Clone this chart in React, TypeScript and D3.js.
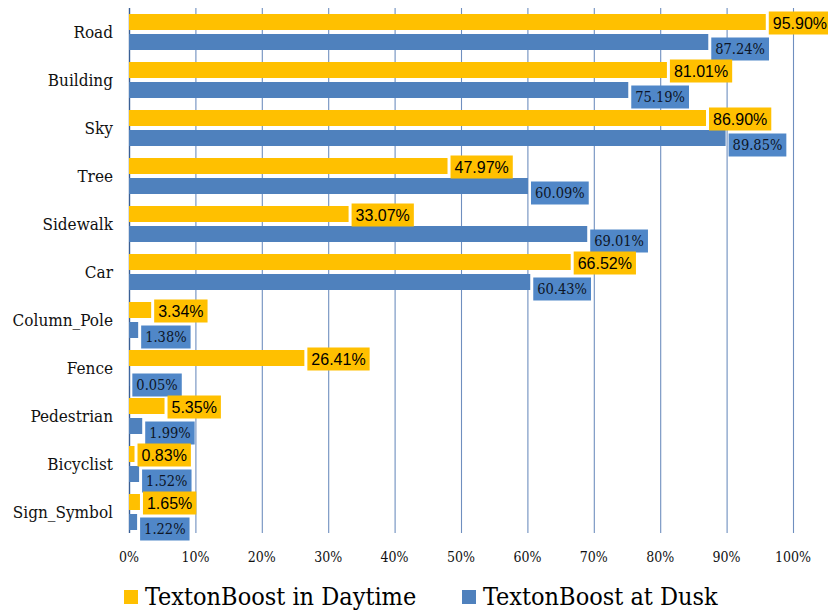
import React from 'react'
import * as d3 from "d3";

const categories = ["Road", "Building", "Sky", "Tree", "Sidewalk", "Car", "Column_Pole", "Fence", "Pedestrian", "Bicyclist", "Sign_Symbol"]
const daytime = [95.90, 81.01, 86.90, 47.97, 33.07, 66.52, 3.34, 26.41, 5.35, 0.83, 1.65]
const dusk = [87.24, 75.19, 89.85, 60.09, 69.01, 60.43, 1.38, 0.05, 1.99, 1.52, 1.22]
const seriesNames = ["TextonBoost in Daytime", "TextonBoost at Dusk"]
const xTicks = [0, 10, 20, 30, 40, 50, 60, 70, 80, 90, 100]

const serif = "'DejaVu Serif Condensed', 'DejaVu Serif', serif"
const sans = "'Liberation Sans', Arial, sans-serif"

function drawChart(svgRef: React.RefObject<SVGSVGElement>) {
  const width = 828
  const height = 612

  const colors = ["#FFC000", "#4F81BD"]
  const boxColors = ["#FFC000", "#5087C8"]
  const labelFonts = [sans, serif]
  const labelSizes = [16, 14.5]
  // label box shift from bar center
  const labelDy = [1, 7]

  const svg = d3.select(svgRef.current)
    .attr("width", width)
    .attr("height", height)
    .attr("viewBox", [0, 0, width, height])
  svg.selectAll("*").remove()

  const x = d3.scaleLinear().domain([0, 100]).range([129, 793])
  const y = d3.scaleBand().domain(categories).range([8, 536]).paddingInner(0).paddingOuter(0)
  const sub = d3.scaleBand().domain(["0", "1"]).range([6, y.bandwidth() - 6]).paddingInner(0.2).paddingOuter(0)

  // grid
  svg.append("g")
    .selectAll("line")
    .data(xTicks)
    .join("line")
      .attr("x1", d => x(d) + 0.5)
      .attr("x2", d => x(d) + 0.5)
      .attr("y1", 8)
      .attr("y2", 533)
      .attr("stroke", d => d === 0 ? "#3A5F95" : "#6F8FBF")
      .attr("stroke-width", d => d === 0 ? 1.4 : 1.1)

  // tick labels
  svg.append("g")
      .attr("font-family", serif)
      .attr("font-stretch", "condensed")
      .attr("font-size", 14)
      .attr("text-anchor", "middle")
      .attr("fill", "#111")
    .selectAll("text")
    .data(xTicks)
    .join("text")
      .attr("x", d => x(d))
      .attr("y", 562)
      .text(d => `${d}%`)

  // category labels
  svg.append("g")
      .attr("font-family", serif)
      .attr("font-stretch", "condensed")
      .attr("font-size", 17)
      .attr("text-anchor", "end")
      .attr("fill", "#111")
    .selectAll("text")
    .data(categories)
    .join("text")
      .attr("x", 113)
      .attr("y", d => y(d)! + y.bandwidth() / 2)
      .attr("dy", "0.35em")
      .text(d => d)

  const rows = categories.map((c, i) => ({ c, vals: [daytime[i], dusk[i]] }))
  const flat = rows.flatMap(r => r.vals.map((v, s) => ({ c: r.c, v, s })))

  // bars
  svg.append("g")
    .selectAll("rect")
    .data(flat)
    .join("rect")
      .attr("x", x(0))
      .attr("y", d => y(d.c)! + sub(String(d.s))!)
      .attr("width", d => x(d.v) - x(0))
      .attr("height", sub.bandwidth())
      .attr("fill", d => colors[d.s])

  // data labels with boxes
  const labels = svg.append("g")
    .selectAll("g")
    .data(flat)
    .join("g")

  labels.each(function(d) {
    const g = d3.select(this)
    const cy = y(d.c)! + sub(String(d.s))! + sub.bandwidth() / 2 + labelDy[d.s]
    const rect = g.append("rect")
      .attr("fill", boxColors[d.s])
    const text = g.append("text")
      .attr("font-family", labelFonts[d.s])
      .attr("font-stretch", d.s === 0 ? null : "condensed")
      .attr("font-size", labelSizes[d.s])
      .attr("fill", d.s === 0 ? "#000" : "#0d1526")
      .attr("dy", "0.35em")
      .attr("y", cy)
      .text(`${d.v.toFixed(2)}%`)
    const tw = (text.node() as SVGTextElement).getComputedTextLength()
    const bx = x(d.v) + 3
    const pad = 4
    rect.attr("x", bx).attr("y", cy - 11.5).attr("width", tw + pad * 2).attr("height", 23)
    text.attr("x", bx + pad)
  })

  // legend
  const legend = svg.append("g")
      .attr("font-family", serif)
      .attr("font-stretch", "condensed")
      .attr("font-size", 25)
      .attr("fill", "#000")
  const legendX = [124, 462]
  seriesNames.forEach((name, i) => {
    legend.append("rect")
      .attr("x", legendX[i])
      .attr("y", 590)
      .attr("width", 14)
      .attr("height", 14)
      .attr("fill", colors[i])
    legend.append("text")
      .attr("x", legendX[i] + 21)
      .attr("y", 605)
      .text(name)
  })

  return svg.node()
}

const App: React.FunctionComponent = () => {
  const svg = React.useRef<SVGSVGElement>(null)

  React.useEffect(() => {
    drawChart(svg)
  }, [svg])

  return (
    <div id="chart" style={{ position: "absolute", left: 0, top: 0 }}>
      <svg ref={svg} style={{ display: "block", background: "#fff" }} />
    </div>
  )
}

export default App
